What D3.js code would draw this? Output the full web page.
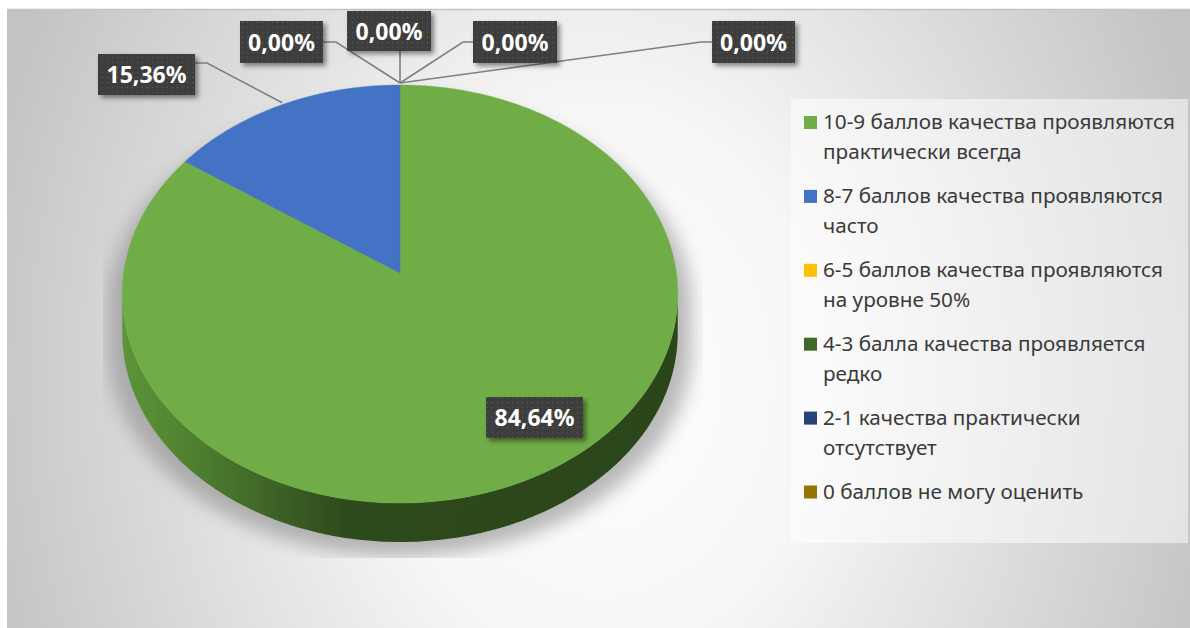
<!DOCTYPE html>
<html><head><meta charset="utf-8">
<script src="https://cdn.jsdelivr.net/npm/d3@7"></script>
<style>html,body{margin:0;padding:0;background:#fff;overflow:hidden}</style>
</head><body>
<svg id="chart" width="1190" height="628"></svg>
<script>
// ---- data ----
const categories = [
  "10-9 баллов качества проявляются практически всегда",
  "8-7 баллов качества проявляются часто",
  "6-5 баллов качества проявляются на уровне 50%",
  "4-3 балла качества проявляется редко",
  "2-1 качества практически отсутствует",
  "0 баллов не могу оценить"
];
const values = [84.64, 15.36, 0, 0, 0, 0];
const colors = ["#70ad47", "#4472c4", "#ffc000", "#43682b", "#264478", "#997300"];

// ---- layout (not data) ----
const W = 1190, H = 628;
const cx = 400, cy = 273, A = 276.3, B = 206.9, K = -0.1005, DEPTH = 39;
const labelLayout = [
  {box: [486, 397, 97, 41]},
  {box: [98, 54, 97, 41], elbow: [207, 63], end: [195, 63]},
  {box: [240, 21, 83, 42], elbow: [336, 42], end: [323, 42]},
  {box: [347, 11, 84, 40], elbow: [400, 51], end: [400, 51]},
  {box: [473, 21, 84, 42], elbow: [463, 42], end: [473, 42]},
  {box: [712, 21, 83, 42], elbow: [701, 42], end: [712, 42]}
];

const svg = d3.select("#chart");
const defs = svg.append("defs");

// background gradient
const bg = defs.append("radialGradient").attr("id", "bg")
  .attr("gradientUnits", "userSpaceOnUse")
  .attr("cx", 600).attr("cy", 380).attr("r", 640)
  .attr("gradientTransform", "translate(600,380) scale(1,1.25) translate(-600,-380)");
bg.append("stop").attr("offset", 0).attr("stop-color", "#ffffff");
bg.append("stop").attr("offset", 0.35).attr("stop-color", "#f6f6f6");
bg.append("stop").attr("offset", 1).attr("stop-color", "#c3c3c3");

// side gradient
const sg = defs.append("linearGradient").attr("id", "side")
  .attr("gradientUnits", "userSpaceOnUse").attr("x1", 122).attr("x2", 678).attr("y1", 0).attr("y2", 0);
[[0, "#5c9538"], [0.14, "#4d7e2f"], [0.28, "#3c6125"], [0.40, "#2e4b1d"], [1, "#2b451a"]]
  .forEach(s => sg.append("stop").attr("offset", s[0]).attr("stop-color", s[1]));

// label dot pattern
const pat = defs.append("pattern").attr("id", "dots").attr("patternUnits", "userSpaceOnUse")
  .attr("width", 5).attr("height", 5);
pat.append("rect").attr("width", 5).attr("height", 5).attr("fill", "#3d3d3d");
pat.append("circle").attr("cx", 2.5).attr("cy", 2.5).attr("r", 0.7).attr("fill", "#595959");

const blur = defs.append("filter").attr("id", "blur").attr("x", "-20%").attr("y", "-20%").attr("width", "140%").attr("height", "140%");
blur.append("feGaussianBlur").attr("stdDeviation", 9);

const ds = defs.append("filter").attr("id", "ds").attr("x", "-20%").attr("y", "-30%").attr("width", "150%").attr("height", "180%");
ds.append("feDropShadow").attr("dx", 3).attr("dy", 3).attr("stdDeviation", 2.5)
  .attr("flood-color", "#000").attr("flood-opacity", 0.45);

defs.append("clipPath").attr("id", "plotClip").append("rect")
  .attr("x", 103).attr("y", 60).attr("width", 600).attr("height", 498);

// background
svg.append("rect").attr("x", 7).attr("y", 9).attr("width", W - 7).attr("height", H - 9)
  .attr("fill", "url(#bg)");
svg.append("line").attr("x1", 7).attr("x2", W).attr("y1", 9.5).attr("y2", 9.5)
  .attr("stroke", "#c4c4c4").attr("stroke-width", 1.5);

// ---- projection through scales ----
const xs = d3.scaleLinear().domain([-1, 1]).range([cx - A, cx + A]);
const ys = d3.scaleLinear().domain([-1, 1]).range([cy - B, cy + B]);
function proj(a, dy = 0) {
  const u = Math.sin(a), v = -Math.cos(a), d = 1 + K * v;
  return [xs(u / d), ys(v / d) + dy];
}
function arcPts(a0, a1, dy = 0) {
  const n = Math.max(2, Math.ceil(Math.abs(a1 - a0) / 0.01));
  return d3.range(n + 1).map(i => proj(a0 + (a1 - a0) * i / n, dy));
}
const line = d3.line();

const pie = d3.pie().sort(null).value(d => d)(values);

// front silhouette extremes
const aR = Math.acos(K), aL = 2 * Math.PI - Math.acos(K);
const sidePts = arcPts(aR, aL).concat(arcPts(aL, aR, DEPTH));
const topPts = arcPts(0, 2 * Math.PI);

// shadow
const sh = svg.append("g").attr("clip-path", "url(#plotClip)")
  .append("g").attr("filter", "url(#blur)")
  .attr("transform", `translate(${cx},${cy + 14}) scale(1.05,1.0) translate(${-cx},${-cy})`)
  .attr("opacity", 0.6);
sh.append("path").attr("d", line(topPts) + "Z").attr("fill", "#8a8a8a");
sh.append("path").attr("d", line(sidePts) + "Z").attr("fill", "#8a8a8a");

// side
svg.append("path").attr("d", line(sidePts) + "Z").attr("fill", "url(#side)");

// top slices
svg.append("g").selectAll("path").data(pie).join("path")
  .attr("d", d => d.endAngle - d.startAngle > 0
    ? line([[cx, cy]].concat(arcPts(d.startAngle, d.endAngle))) + "Z" : null)
  .attr("fill", (d, i) => colors[i])
  .attr("stroke", (d, i) => colors[i]).attr("stroke-width", 0.5);

// ---- data labels ----
const fmt = v => d3.format(".2f")(v).replace(".", ",") + "%";
const lab = svg.append("g");
pie.forEach((d, i) => {
  const L = labelLayout[i];
  if (L.elbow) {
    const anchor = proj((d.startAngle + d.endAngle) / 2, -2);
    lab.append("path").attr("d", line([anchor, L.elbow, L.end]))
      .attr("fill", "none").attr("stroke", "#7f7f7f").attr("stroke-width", 1.6);
  }
});
pie.forEach((d, i) => {
  const [x, y, w, h] = labelLayout[i].box;
  const g = lab.append("g");
  g.append("rect").attr("x", x).attr("y", y).attr("width", w).attr("height", h)
    .attr("fill", "url(#dots)").attr("filter", "url(#ds)");
  g.append("text").attr("x", x + w / 2).attr("y", y + h / 2 + 8.5)
    .attr("text-anchor", "middle").attr("fill", "#ffffff")
    .attr("font-family", "'Noto Sans', 'Open Sans', sans-serif").attr("font-weight", 700)
    .attr("font-size", 23).text(fmt(values[i]));
});

// ---- legend ----
svg.append("rect").attr("x", 791).attr("y", 99).attr("width", 397).attr("height", 444)
  .attr("fill", "#ffffff").attr("opacity", 0.5);
const leg = svg.append("g").attr("font-family", "'Noto Sans', 'Open Sans', sans-serif")
  .attr("fill", "#3a3a3a");
const meas = leg.append("text").attr("font-size", 100).attr("visibility", "hidden");
function tw(s, fs) { meas.attr("font-size", fs); meas.text(s); return meas.node().getComputedTextLength(); }
// fit font so that the first legend line spans ~352px as in the reference
const legFont = 100 * 352 / tw("10-9 баллов качества проявляются", 100);
const maxW = tw("10-9 баллов качества проявляются", legFont) + 6;
categories.forEach((c, i) => {
  const base = 129 + i * 73.9;
  leg.append("rect").attr("x", 804).attr("y", base - 13).attr("width", 13).attr("height", 13)
    .attr("fill", colors[i]);
  const words = c.split(" ");
  const lines = [];
  let cur = "";
  words.forEach(w => {
    const t = cur ? cur + " " + w : w;
    if (tw(t, legFont) > maxW && cur) { lines.push(cur); cur = w; } else cur = t;
  });
  lines.push(cur);
  const t = leg.append("text").attr("x", 823).attr("y", base).attr("font-size", legFont);
  lines.forEach((l, j) => t.append("tspan").attr("x", 823).attr("dy", j ? 30 : 0).text(l));
});
meas.remove();
</script>
</body></html>
